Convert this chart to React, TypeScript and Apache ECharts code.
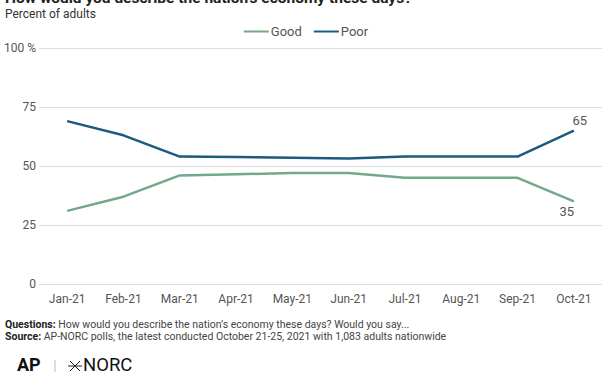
import React, { useEffect, useRef } from "react";
import * as echarts from "echarts";

const categories = ["Jan-21", "Feb-21", "Mar-21", "Apr-21", "May-21", "Jun-21", "Jul-21", "Aug-21", "Sep-21", "Oct-21"];
const good = [31, 37, 46, 46.5, 47, 47, 45, 45, 45, 35];
const poor = [69, 63, 54, 53.8, 53.5, 53.2, 54, 54, 54, 65];
const yTicks = [0, 25, 50, 75, 100];

const GOOD_COLOR = "#72a98a";
const POOR_COLOR = "#1c5a80";
const TEXT = "#555555";

export default function App() {
  const ref = useRef<HTMLDivElement>(null);
  useEffect(() => {
    if (!ref.current) return;
    const chart = echarts.init(ref.current, undefined, { renderer: "svg" });
    const last = categories.length - 1;
    chart.setOption({
      animation: false,
      textStyle: { fontFamily: "Roboto" },
      legend: {
        top: 20,
        left: "center",
        itemWidth: 25,
        itemHeight: 2,
        itemGap: 12,
        icon: "rect",
        textStyle: { color: TEXT, fontSize: 13, padding: [0, 0, 0, -3] },
        data: ["Good", "Poor"],
      },
      grid: { left: 39, right: 10, top: 48, bottom: 90 },
      xAxis: {
        type: "category",
        data: categories,
        boundaryGap: true,
        axisLine: { show: false },
        axisTick: { show: false },
        axisLabel: { color: TEXT, fontSize: 12, margin: 9 },
      },
      yAxis: {
        type: "value",
        min: 0,
        max: 100,
        interval: 25,
        axisLine: { show: false },
        axisTick: { show: false },
        splitLine: { lineStyle: { color: "#dddddd", width: 1 } },
        axisLabel: {
          color: TEXT,
          fontSize: 12,
          margin: 3,
          formatter: (v: number) => (v === yTicks[yTicks.length - 1] ? v + " %" : String(v)),
        },
      },
      series: [
        {
          name: "Good",
          type: "line",
          data: good.map((v, i) =>
            i === last
              ? { value: v, label: { show: true, position: "bottom", distance: 4, offset: [-7, 0], color: TEXT, fontSize: 13 } }
              : v
          ),
          showSymbol: true,
          symbol: "circle",
          symbolSize: 0,
          lineStyle: { color: GOOD_COLOR, width: 2.5 },
          itemStyle: { color: GOOD_COLOR },
        },
        {
          name: "Poor",
          type: "line",
          data: poor.map((v, i) =>
            i === last
              ? { value: v, label: { show: true, position: "top", distance: 4, offset: [6, 0], color: TEXT, fontSize: 13 } }
              : v
          ),
          showSymbol: true,
          symbol: "circle",
          symbolSize: 0,
          lineStyle: { color: POOR_COLOR, width: 2.5 },
          itemStyle: { color: POOR_COLOR },
        },
      ],
      graphic: [
        {
          type: "text",
          left: 5,
          top: -10,
          style: {
            text: "How would you describe the nation\u2019s economy these days?",
            font: "bold 15.5px Roboto",
            fill: "#222",
          },
        },
        {
          type: "text",
          left: 5,
          top: 8,
          style: { text: "Percent of adults", font: "12px Roboto", fill: "#333" },
        },
        {
          type: "text",
          left: 5,
          top: 319,
          style: {
            rich: {
              b: { fontWeight: "bold", fontSize: 10.5, fill: "#222", fontFamily: "Roboto" },
              n: { fontSize: 10.5, fill: "#444", fontFamily: "Roboto" },
            },
            text: "{b|Questions:}{n| How would you describe the nation\u2019s economy these days? Would you say...}",
          },
        },
        {
          type: "text",
          left: 5,
          top: 331,
          style: {
            rich: {
              b: { fontWeight: "bold", fontSize: 10.5, fill: "#222", fontFamily: "Roboto" },
              n: { fontSize: 10.5, fill: "#444", fontFamily: "Roboto" },
            },
            text: "{b|Source:}{n| AP-NORC polls, the latest conducted October 21-25, 2021 with 1,083 adults nationwide}",
          },
        },
        {
          type: "text",
          left: 17,
          top: 355,
          style: { text: "AP", font: "bold 18px Roboto", fill: "#111" },
        },
        { type: "line", shape: { x1: 55, y1: 360, x2: 55, y2: 372 }, style: { stroke: "#bbb", lineWidth: 1 } },
        { type: "line", shape: { x1: 68, y1: 366, x2: 82, y2: 366 }, style: { stroke: "#222", lineWidth: 1 } },
        { type: "line", shape: { x1: 70, y1: 361, x2: 80, y2: 371 }, style: { stroke: "#222", lineWidth: 1 } },
        { type: "line", shape: { x1: 80, y1: 361, x2: 70, y2: 371 }, style: { stroke: "#222", lineWidth: 1 } },
        {
          type: "text",
          left: 83,
          top: 355,
          style: { text: "NORC", font: "18.5px Roboto", fill: "#111" },
        },
      ],
    });
    return () => chart.dispose();
  }, []);
  return <div ref={ref} style={{ width: 612, height: 374, position: "absolute", left: 0, top: 0 }} />;
}
